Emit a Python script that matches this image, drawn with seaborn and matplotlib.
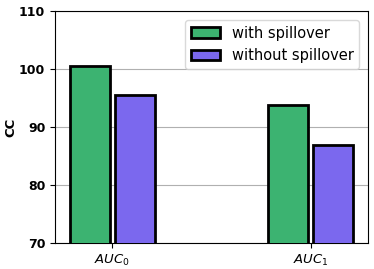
import matplotlib
matplotlib.use("Agg")
import matplotlib.pyplot as plt
import seaborn as sns
import pandas as pd

categories = ["$AUC_0$", "$AUC_1$"]
series = ["with spillover", "without spillover"]
with_spill = [100.6, 93.8]
without_spill = [95.5, 86.9]
colors = ["#3CB371", "#7B68EE"]

rows = []
for c, v in zip(categories, with_spill):
    rows.append({"cat": c, "series": series[0], "CC": v})
for c, v in zip(categories, without_spill):
    rows.append({"cat": c, "series": series[1], "CC": v})
df = pd.DataFrame(rows)

sns.set_style("white")
plt.rcParams.update({
    "text.color": "black",
    "axes.labelcolor": "black",
    "xtick.color": "black",
    "ytick.color": "black",
    "legend.labelcolor": "black",
})
fig = plt.figure(figsize=(3.74, 2.69), dpi=100)
ax = fig.add_axes([0.147, 0.097, 0.837, 0.862])

sns.barplot(data=df, x="cat", y="CC", hue="series", order=categories,
            hue_order=series, palette=colors, saturation=1, width=0.45, gap=0.1,
            edgecolor="black", linewidth=2, ax=ax, zorder=3)

ax.set_ylim(70, 110)
ax.set_xlim(-0.29, 1.29)
ax.set_yticks([70, 80, 90, 100, 110])
ax.yaxis.grid(True, color="#b0b0b0", linewidth=0.8, zorder=0)
ax.set_axisbelow(True)
for s in ax.spines.values():
    s.set_color("black")
    s.set_linewidth(0.8)
ax.tick_params(axis="both", which="both", length=3.5, width=0.8, color="black",
               labelcolor="black", left=True, bottom=True)
for lab in ax.get_yticklabels():
    lab.set_fontweight("bold")
    lab.set_fontsize(9)
for lab in ax.get_xticklabels():
    lab.set_fontsize(9.5)
ax.set_xlabel("")
ax.set_ylabel("CC", fontweight="bold", fontsize=9.5, color="black", labelpad=1.5)

leg = ax.legend(loc="upper right", fontsize=10.5, frameon=True, fancybox=True,
                borderaxespad=0.6)
leg.get_frame().set_edgecolor("#d0d0d0")
for t in leg.get_texts():
    t.set_color("black")

fig.savefig("out.png", dpi=100)
